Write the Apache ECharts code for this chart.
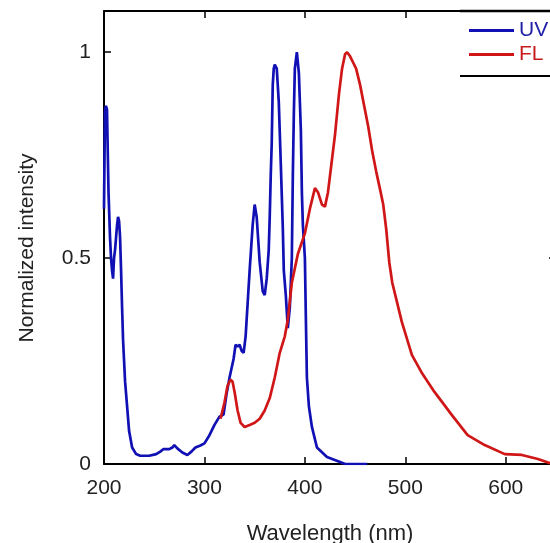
<!DOCTYPE html>
<html>
<head>
<meta charset="utf-8">
<script src="https://cdn.jsdelivr.net/npm/echarts@6/dist/echarts.min.js"></script>
<style>
html,body{margin:0;padding:0;background:#fff;}
#chart{width:550px;height:543px;}
</style>
</head>
<body>
<div id="chart"></div>
<script>
var seriesNames = ['UV', 'FL'];
var xTicks = [200, 300, 400, 500, 600];
var yTicks = [0, 0.5, 1];

var uvX = [200,201,202,203,203.5,204.5,206,207,208,209,210,211,212,213,214,215,216,217,218,219,221,223,225,228,232,236,245,252,256,259,265,268,270,273,278,283,287,291,296,300,305,310,315,319,322,325,329,331,333,335,337,339,341,343,345,348,350,352,355,358,360,362,364,365,366,367,368,369,370,372,374,376,378,379,381,383,385,387,388,389,390,392,394,396,397,398,399,400,401,402,404,407,412,422,435,440,462];
var uvY = [0.62,0.86,0.87,0.86,0.79,0.66,0.55,0.50,0.47,0.45,0.50,0.52,0.55,0.58,0.60,0.59,0.55,0.47,0.38,0.30,0.20,0.14,0.08,0.04,0.024,0.02,0.02,0.024,0.03,0.036,0.036,0.04,0.046,0.038,0.028,0.022,0.03,0.04,0.045,0.05,0.07,0.095,0.115,0.12,0.17,0.21,0.255,0.29,0.285,0.29,0.275,0.27,0.31,0.39,0.47,0.58,0.63,0.60,0.49,0.42,0.41,0.45,0.52,0.60,0.70,0.78,0.92,0.96,0.97,0.96,0.88,0.73,0.575,0.47,0.41,0.33,0.38,0.50,0.70,0.85,0.96,1.0,0.95,0.81,0.66,0.58,0.54,0.50,0.35,0.21,0.14,0.09,0.04,0.017,0.005,0.0,0.0];

var flX = [316,320,323,326,328,330,333,336,340,345,350,355,360,365,370,375,380,383,387,393,400,405,410,413,417,420,423,427,430,434,437,440,442,445,448,451,455,459,463,467,471,475,478,481,484,487,490,496.5,506.5,516,529,546,562,579,599,616,632,644,650];
var flY = [0.11,0.15,0.19,0.205,0.20,0.175,0.13,0.10,0.09,0.095,0.10,0.11,0.13,0.16,0.21,0.27,0.31,0.35,0.44,0.51,0.56,0.62,0.67,0.66,0.63,0.625,0.66,0.74,0.80,0.90,0.96,0.995,1.0,0.99,0.975,0.96,0.92,0.87,0.82,0.76,0.71,0.665,0.63,0.57,0.49,0.44,0.41,0.345,0.265,0.223,0.175,0.12,0.07,0.046,0.024,0.022,0.012,0.002,0.0];

function pairs(xs, ys){ var out=[]; for(var i=0;i<xs.length;i++) out.push([xs[i], ys[i]]); return out; }

var blue = '#1010b4';
var red = '#d01616';
var txt = '#222222';
var font = 'Liberation Sans, Arial, sans-serif';

var chart = echarts.init(document.getElementById('chart'), null, {renderer:'canvas'});
var axisCommonX = {
  type:'value', min:200, max:650, interval:100,
  splitLine:{show:false},
  axisLine:{show:true, onZero:false, lineStyle:{color:'#000', width:2}},
  axisTick:{show:true, inside:true, length:7, lineStyle:{color:'#000', width:1.5},
    customValues: xTicks}
};
var axisCommonY = {
  type:'value', min:0, max:1.1, interval:0.5,
  splitLine:{show:false},
  axisLine:{show:true, onZero:false, lineStyle:{color:'#000', width:2}},
  axisTick:{show:true, inside:true, length:7, lineStyle:{color:'#000', width:1.5},
    customValues: yTicks}
};
chart.setOption({
  animation:false,
  backgroundColor:'#fff',
  grid:{left:104, top:11, right:-6, bottom:79, containLabel:false, outerBoundsMode:'none'},
  xAxis:[
    Object.assign({}, axisCommonX, {
      position:'bottom',
      axisLabel:{show:true, fontSize:21, color:txt, fontFamily:font, margin:14,
        customValues: xTicks},
      name:'Wavelength (nm)', nameLocation:'middle', nameGap:59,
      nameTextStyle:{fontSize:22, color:txt, fontFamily:font}
    }),
    Object.assign({}, axisCommonX, {position:'top', axisLabel:{show:false}})
  ],
  yAxis:[
    Object.assign({}, axisCommonY, {
      position:'left',
      axisLabel:{show:true, fontSize:21, color:txt, fontFamily:font, margin:13,
        customValues: yTicks}
    }),
    Object.assign({}, axisCommonY, {position:'right', axisLabel:{show:false}})
  ],
  legend:{
    orient:'vertical', left:469, top:20, icon:'rect', itemWidth:45, itemHeight:3,
    itemGap:3, padding:0, z:6,
    textStyle:{fontSize:21, fontFamily:font, lineHeight:21},
    data:[
      {name:seriesNames[0], textStyle:{color:'#2020a8'}},
      {name:seriesNames[1], textStyle:{color:'#c81c1c'}}
    ]
  },
  graphic:[
    {type:'rect', shape:{x:460, y:12, width:92, height:63}, style:{fill:'#fff'}, z:5},
    {type:'line', shape:{x1:460, y1:11, x2:550, y2:11}, style:{stroke:'#000', lineWidth:2.5}, z:10},
    {type:'line', shape:{x1:460, y1:76, x2:550, y2:76}, style:{stroke:'#000', lineWidth:2}, z:10},
    {type:'text', x:27, y:248, rotation:Math.PI/2,
      style:{text:'Normalized intensity', fontSize:21, fontFamily:font, fill:txt, align:'center', verticalAlign:'middle'}}
  ],
  series:[
    {name:seriesNames[0], type:'line', data:pairs(uvX, uvY), showSymbol:false, symbol:'none',
      lineStyle:{color:blue, width:2.7}, itemStyle:{color:blue}, clip:true},
    {name:seriesNames[1], type:'line', data:pairs(flX, flY), showSymbol:false, symbol:'none',
      lineStyle:{color:red, width:2.7}, itemStyle:{color:red}, clip:true}
  ]
});
</script>
</body>
</html>
